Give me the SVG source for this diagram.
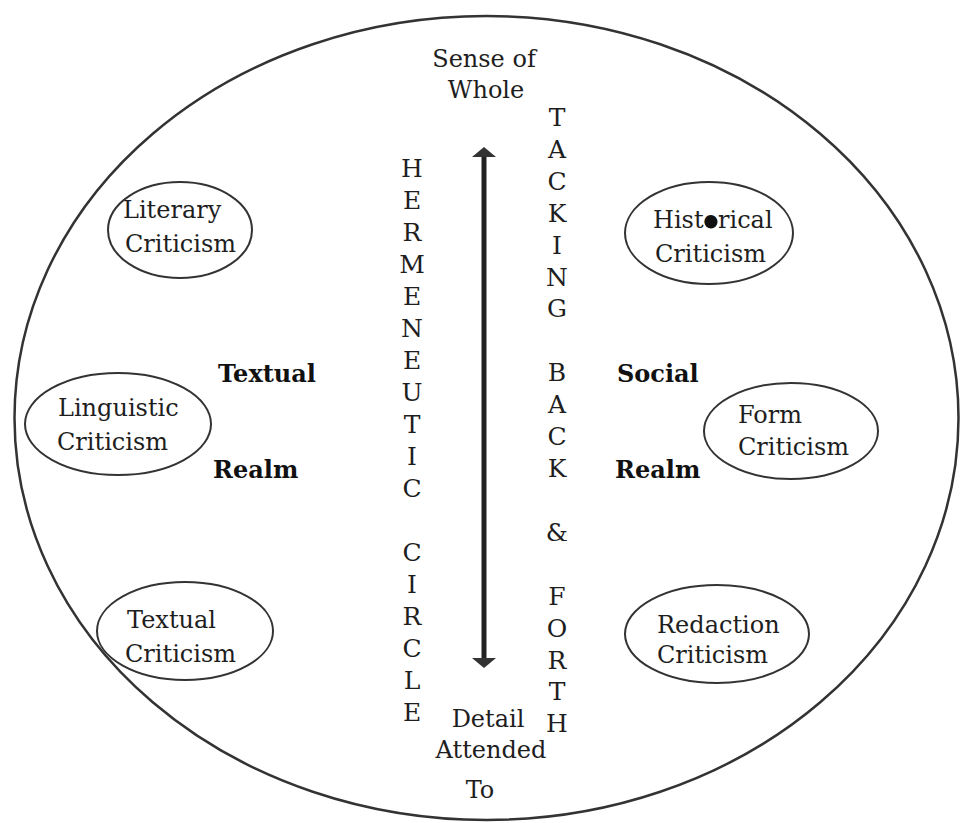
<svg xmlns="http://www.w3.org/2000/svg" width="960" height="823" viewBox="0 0 960 823">
<style>
.t{font-family:"DejaVu Serif","Liberation Serif",serif;font-size:24px;fill:#1e1e1e}
.b{font-family:"DejaVu Serif","Liberation Serif",serif;font-size:24px;font-weight:bold;fill:#111}
.col{font-family:"DejaVu Serif","Liberation Serif",serif;font-size:25px;fill:#1e1e1e;text-anchor:middle}
.m{text-anchor:middle}
.node{fill:none;stroke:#333;stroke-width:2}
</style>
<rect width="960" height="823" fill="#fff"/>
<g id="outer-circle"><ellipse cx="486.5" cy="418" rx="472" ry="402" fill="none" stroke="#333" stroke-width="2.5"/></g>
<g id="connectors">
<line x1="484" y1="152" x2="484" y2="663" stroke="#222" stroke-width="5"/>
<path d="M484,147 L496,157 L472,157 Z" fill="#333"/>
<path d="M484,668 L496,658 L472,658 Z" fill="#333"/>
</g>
<g id="sense-of-whole"><text class="t m" x="484" y="67">Sense of</text><text class="t m" x="486" y="98">Whole</text></g>
<g id="detail-attended-to"><text class="t m" x="488" y="727">Detail</text><text class="t m" x="491" y="758">Attended</text><text class="t m" x="480" y="798">To</text></g>
<g id="hermeneutic-circle" class="col">
<text x="412" y="177">H</text><text x="412" y="209">E</text><text x="412" y="241">R</text><text x="412" y="273">M</text><text x="412" y="305">E</text><text x="412" y="337">N</text><text x="412" y="369">E</text><text x="412" y="401">U</text><text x="412" y="433">T</text><text x="412" y="465">I</text><text x="412" y="497">C</text>
<text x="412" y="561">C</text><text x="412" y="593">I</text><text x="412" y="625">R</text><text x="412" y="657">C</text><text x="412" y="689">L</text><text x="412" y="721">E</text>
</g>
<g id="tacking-back-forth" class="col">
<text x="557" y="126">T</text><text x="557" y="158">A</text><text x="557" y="190">C</text><text x="557" y="222">K</text><text x="557" y="254">I</text><text x="557" y="286">N</text><text x="557" y="317">G</text>
<text x="557" y="381">B</text><text x="557" y="413">A</text><text x="557" y="445">C</text><text x="557" y="477">K</text>
<text x="557" y="541">&amp;</text>
<text x="557" y="605">F</text><text x="557" y="637">O</text><text x="557" y="669">R</text><text x="557" y="700">T</text><text x="557" y="732">H</text>
</g>
<g id="textual-realm"><text class="b" x="218" y="382">Textual</text><text class="b" x="213" y="478">Realm</text></g>
<g id="social-realm"><text class="b" x="617" y="382">Social</text><text class="b" x="615" y="478">Realm</text></g>
<g id="literary-criticism"><ellipse class="node" cx="180" cy="230" rx="72" ry="48"/><text class="t" x="123" y="218">Literary</text><text class="t" x="125" y="252">Criticism</text></g>
<g id="historical-criticism"><ellipse class="node" cx="709" cy="233" rx="84" ry="51"/><text class="t" x="653" y="228">Historical</text><circle cx="711" cy="222" r="6.5" fill="#111"/><text class="t" x="655" y="262">Criticism</text></g>
<g id="linguistic-criticism"><ellipse class="node" cx="118" cy="424" rx="93" ry="51"/><text class="t" x="58" y="416">Linguistic</text><text class="t" x="57" y="450">Criticism</text></g>
<g id="form-criticism"><ellipse class="node" cx="791" cy="431" rx="87" ry="48" stroke-width="2.6"/><text class="t" x="738" y="423">Form</text><text class="t" x="738" y="455">Criticism</text></g>
<g id="textual-criticism"><ellipse class="node" cx="185" cy="631" rx="88" ry="49"/><text class="t" x="127" y="628">Textual</text><text class="t" x="125" y="662">Criticism</text></g>
<g id="redaction-criticism"><ellipse class="node" cx="717" cy="634" rx="92" ry="49"/><text class="t" x="657" y="633">Redaction</text><text class="t" x="657" y="663">Criticism</text></g>
</svg>
